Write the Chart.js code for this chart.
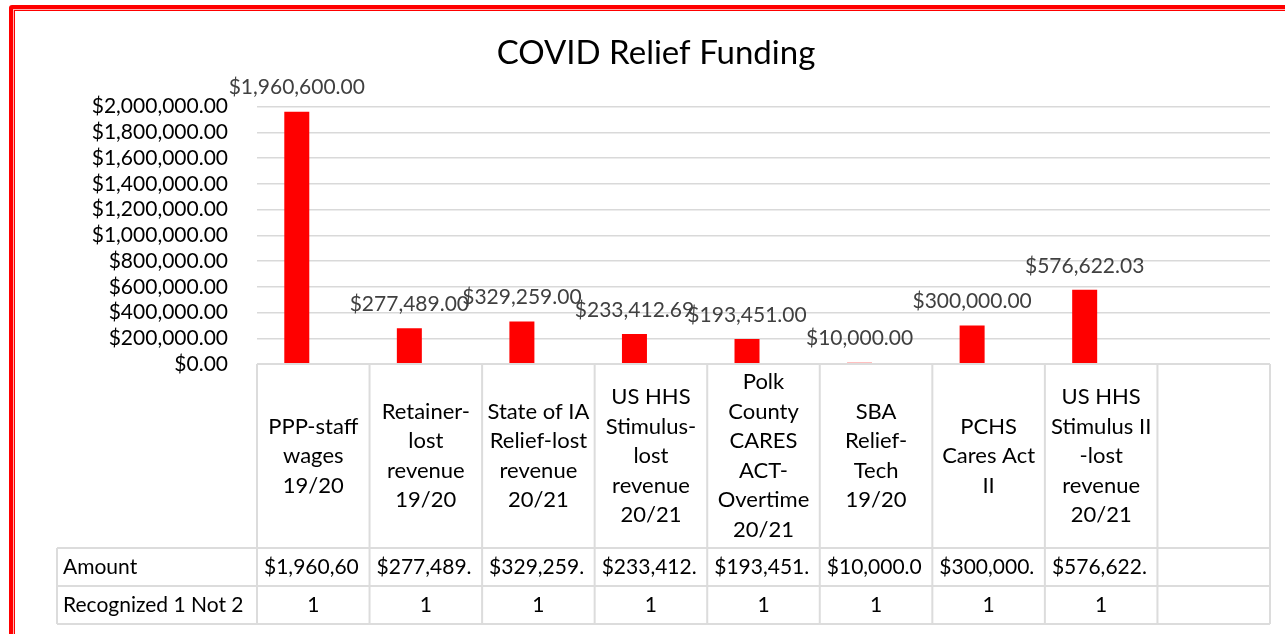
<!DOCTYPE html>
<html>
<head>
<meta charset="utf-8">
<title>COVID Relief Funding</title>
<script src="https://cdn.jsdelivr.net/npm/chart.js@4"></script>
<style>
  html, body { margin: 0; padding: 0; background: #fff; overflow: hidden; }
  #frame {
    position: absolute; left: 9px; top: 5px; width: 1400px; height: 800px;
    border: 4px solid #ff0000; border-radius: 3px;
    box-shadow: inset 0 0 0 1px #ffb3b3, inset 0 0 0 2px #ff0000;
  }
  #myChart { position: absolute; left: 0; top: 0; }
</style>
</head>
<body>
<div id="frame"></div>
<canvas id="myChart" width="1285" height="634"></canvas>
<script>
// categories (one array of lines per column, last column is empty in the sheet)
const categories = [
  ["PPP-staff", "wages", "19/20"],
  ["Retainer-", "lost", "revenue", "19/20"],
  ["State of IA", "Relief-lost", "revenue", "20/21"],
  ["US HHS", "Stimulus-", "lost", "revenue", "20/21"],
  ["Polk", "County", "CARES", "ACT-", "Overtime", "20/21"],
  ["SBA", "Relief-", "Tech", "19/20"],
  ["PCHS", "Cares Act", "II"],
  ["US HHS", "Stimulus II", "-lost", "revenue", "20/21"],
  [""]
];
const amounts = [1960600, 277489, 329259, 233412.69, 193451, 10000, 300000, 576622.03, null];
const recognized = [1, 1, 1, 1, 1, 1, 1, 1, null];
const rowNames = ["Amount", "Recognized 1 Not 2"];

// y axis ticks
const yMin = 0;
const yMax = 2000000;
const yStep = 200000;

const FONT = "Lato";
const money = v => "$" + v.toLocaleString("en-US", { minimumFractionDigits: 2, maximumFractionDigits: 2 });

// cut text by whole characters so it fits the cell (like Excel does)
const fitText = (ctx, text, maxW) => {
  let t = text;
  while (t.length && ctx.measureText(t).width > maxW) t = t.slice(0, -1);
  return t;
};

// draws the data labels and the data table under the plot
const tablePlugin = {
  id: "dataTable",
  afterDraw(chart) {
    const ctx = chart.ctx;
    const area = chart.chartArea;
    const xs = chart.scales.x;
    const n = categories.length;
    const colW = area.width / n;
    const headTop = area.bottom;
    const headBottom = headTop + 184;
    const rowH = 38;
    const tableLeft = 57;
    const lineH = 29.5;

    const line = (x1, y1, x2, y2) => {
      ctx.beginPath();
      ctx.moveTo(x1, y1);
      ctx.lineTo(x2, y2);
      ctx.stroke();
    };

    ctx.save();
    ctx.strokeStyle = "#dcdcdc";
    ctx.lineWidth = 2;
    line(area.left, headTop, area.right, headTop);
    for (let r = 0; r <= rowNames.length; r++) {
      line(tableLeft, headBottom + r * rowH, area.right, headBottom + r * rowH);
    }
    for (let k = 0; k <= n; k++) {
      const xk = area.left + k * colW;
      line(xk, headTop, xk, headBottom + rowNames.length * rowH);
    }
    line(tableLeft, headBottom, tableLeft, headBottom + rowNames.length * rowH);

    // category labels, centred in the header cells
    ctx.font = "22px " + FONT;
    ctx.fillStyle = "#000";
    ctx.textAlign = "center";
    ctx.textBaseline = "middle";
    categories.forEach((lines, i) => {
      const cx = xs.getPixelForValue(i);
      const y0 = (headTop + headBottom) / 2 - (lines.length - 1) * lineH / 2;
      lines.forEach((t, j) => ctx.fillText(t, cx, y0 + j * lineH));
    });

    // table rows
    ctx.font = "21px " + FONT;
    const rows = [amounts.map(v => v == null ? "" : money(v)), recognized.map(v => v == null ? "" : String(v))];
    rows.forEach((vals, r) => {
      const cy = headBottom + r * rowH + rowH / 2;
      ctx.textAlign = "left";
      ctx.fillText(rowNames[r], tableLeft + 6, cy);
      vals.forEach((txt, i) => {
        const cx = xs.getPixelForValue(i);
        const left = cx - colW / 2;
        const maxW = colW - 14;
        if (ctx.measureText(txt).width > maxW) {
          ctx.textAlign = "left";
          ctx.fillText(fitText(ctx, txt, maxW), left + 7, cy);
        } else {
          ctx.textAlign = "center";
          ctx.fillText(txt, cx, cy);
        }
      });
    });

    // data labels above the bars
    ctx.fillStyle = "#404040";
    ctx.textAlign = "center";
    chart.getDatasetMeta(0).data.forEach((bar, i) => {
      if (amounts[i] == null) return;
      ctx.fillText(money(amounts[i]), bar.x, bar.y - 24);
    });
    ctx.restore();
  }
};

const data = {
  labels: categories,
  datasets: [
    {
      label: rowNames[0],
      data: amounts,
      backgroundColor: "#ff0000",
      categoryPercentage: 0.586,
      barPercentage: 0.758,
    },
    {
      label: rowNames[1],
      data: recognized,
      backgroundColor: "#ff0000",
      categoryPercentage: 0.586,
      barPercentage: 0.758,
    },
  ],
};

const config = {
  type: "bar",
  data: data,
  options: {
    responsive: false,
    devicePixelRatio: 1,
    animation: false,
    layout: { padding: { left: 42, right: 15, top: 12, bottom: 0 } },
    plugins: {
      legend: { display: false },
      tooltip: { enabled: false },
      title: {
        display: true,
        text: "COVID Relief Funding",
        color: "#000",
        font: { family: FONT, size: 33, weight: "normal" },
        padding: { top: 22, bottom: 33 },
      },
    },
    scales: {
      x: {
        ticks: { display: false },
        grid: { display: false },
        border: { display: false },
        afterFit: s => { s.height = 270; },
      },
      y: {
        min: yMin,
        max: yMax,
        ticks: {
          stepSize: yStep,
          autoSkip: false,
          padding: 29,
          color: "#000",
          font: { family: FONT, size: 21 },
          callback: v => money(v),
        },
        grid: { color: "#d9d9d9", lineWidth: 1.5, drawTicks: false },
        border: { display: false },
        afterFit: s => { s.width = 215; },
      },
    },
  },
  plugins: [tablePlugin],
};

new Chart(document.getElementById("myChart"), config);
</script>
</body>
</html>
